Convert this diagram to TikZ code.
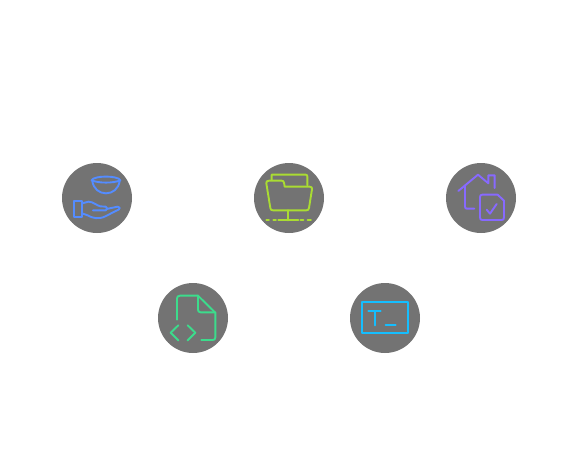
\documentclass[tikz,border=0pt]{standalone}
\begin{document}
\begin{tikzpicture}[x=1pt,y=-1pt,
  disc/.style={circle,fill=black!55!white,draw=none,minimum size=70pt,inner sep=0pt},
  icon/.style={line width=1.9pt,line cap=round,line join=round,x=0.3333pt,y=-0.3333pt}]
\useasboundingbox (0,0) rectangle (578,459);
\node[disc] (a) at (97,198) {};
\node[disc] (b) at (289,198) {};
\node[disc] (c) at (481,198) {};
\node[disc] (d) at (193,318) {};
\node[disc] (e) at (385,318) {};
% bowl and hand
\begin{scope}[shift={(57,158)},icon,draw={rgb,255:red,84;green,140;blue,255}]
\draw (104,67) .. controls (110,52) and (184,52) .. (190,67) .. controls (170,76) and (124,76) .. (104,67) -- cycle;
\draw (106,70) .. controls (110,92) and (126,106) .. (147,106) .. controls (168,106) and (184,92) .. (188,70);
\draw (50,128) -- (75,128) -- (75,178) -- (50,178) -- cycle;
\draw (75,136) -- (95,131) .. controls (108,131) and (120,143) .. (130,145) -- (146,146) .. controls (153,147) and (152,156) .. (146,157) -- (108,157);
\draw (148,153) -- (182,146) .. controls (188,146) and (191,152) .. (186,154) -- (145,175) .. controls (125,185) and (105,180) .. (92,172) -- (75,166);
\end{scope}
% networked folder
\begin{scope}[shift={(249,158)},icon,draw={rgb,255:red,170;green,220;blue,50}]
\draw (68,65) -- (68,50) -- (170,50) .. controls (174,50) and (175,52) .. (175,56) -- (175,82);
\draw (60,68) -- (98,68) .. controls (102,68) and (104,70) .. (105,74) -- (107,86) -- (182,86) .. controls (188,86) and (190,89) .. (189,94) -- (180,150) .. controls (179,155) and (177,157) .. (172,157) -- (72,157) .. controls (67,157) and (65,155) .. (64,150) -- (52,76) .. controls (51,71) and (54,68) .. (60,68) -- cycle;
\draw (118,157) -- (118,187);
\draw (52,187) -- (60,187) (73,187) -- (81,187) (88,187) -- (148,187) (155,187) -- (163,187) (176,187) -- (186,187);
\end{scope}
% house with document
\begin{scope}[shift={(441,158)},icon,draw={rgb,255:red,135;green,105;blue,255}]
\draw (52,99) -- (111,50) -- (142,76) -- (142,52) -- (161,52) -- (161,90);
\draw (72,84) -- (72,146) .. controls (72,150) and (74,152) .. (78,152) -- (100,152);
\draw (117,118) .. controls (117,112) and (119,110) .. (124,110) -- (170,110) -- (189,128) -- (189,178) .. controls (189,184) and (187,186) .. (182,186) -- (124,186) .. controls (119,186) and (117,184) .. (117,178) -- cycle;
\draw (137,155) -- (147,167) -- (167,138);
\end{scope}
% code file
\begin{scope}[shift={(153,278)},icon,draw={rgb,255:red,60;green,220;blue,140}]
\draw (72,125) -- (72,62) .. controls (72,56) and (75,53) .. (81,53) -- (135,53) -- (187,104) -- (187,178) .. controls (187,184) and (184,186) .. (179,186) -- (145,186);
\draw (135,53) -- (135,95) .. controls (135,100) and (138,103) .. (143,103) -- (187,103);
\draw (76,142) -- (53,164) -- (76,187);
\draw (104,142) -- (127,164) -- (104,187);
\end{scope}
% terminal
\begin{scope}[shift={(345,278)},icon,draw={rgb,255:red,20;green,190;blue,255}]
\draw (50,73) rectangle (190,166);
\draw (70,99) -- (107,99) (89,99) -- (89,142);
\draw (122,142) -- (152,142);
\end{scope}
\end{tikzpicture}
\end{document}
